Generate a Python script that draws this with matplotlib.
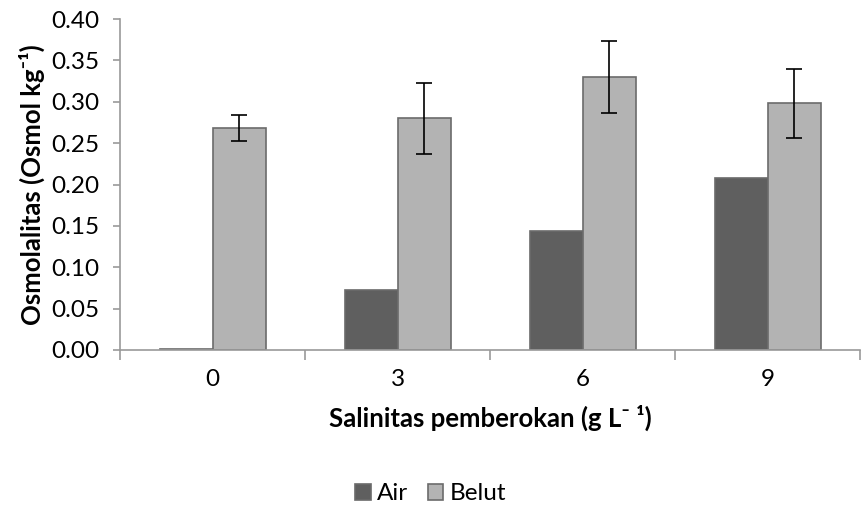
import matplotlib
matplotlib.use("Agg")
import matplotlib.pyplot as plt
import numpy as np

plt.rcParams['font.family'] = ['Lato', 'DejaVu Sans']

categories = ["0", "3", "6", "9"]
air = [0.001, 0.072, 0.144, 0.208]
belut = [0.268, 0.280, 0.330, 0.298]
belut_err = [0.016, 0.043, 0.044, 0.042]
yticks = [0.00, 0.05, 0.10, 0.15, 0.20, 0.25, 0.30, 0.35, 0.40]

fig = plt.figure(figsize=(8.61, 5.12), dpi=100)
ax = fig.add_axes([120/861, (512-350)/512, 740/861, 331/512])

x = np.arange(len(categories))
w = 53/185
ax.bar(x - w/2, air, width=w, color="#5f5f5f", edgecolor="#6b6b6b", linewidth=1.2, label="Air", zorder=2)
ax.bar(x + w/2, belut, width=w, color="#b3b3b3", edgecolor="#6b6b6b", linewidth=1.2, label="Belut", zorder=2)
ax.errorbar(x + w/2, belut, yerr=belut_err, fmt="none", ecolor="black", elinewidth=1.2, capsize=6, capthick=1.2, zorder=3)

ax.set_xlim(-0.5, len(categories) - 0.5)
ax.set_ylim(0, 0.40)
ax.set_yticks(yticks)
ax.set_yticklabels([f"{v:.2f}" for v in yticks], fontsize=17.5)
ax.set_xticks(x)
ax.set_xticklabels(categories, fontsize=17.5)
ax.set_xticks(np.arange(-0.5, len(categories)), minor=True)
ax.tick_params(axis="x", which="major", length=0, pad=14)
ax.tick_params(axis="x", which="minor", length=7, color="#9a9a9a", width=1.2)
ax.tick_params(axis="y", length=5, color="#9a9a9a", width=1.2, pad=10)

for s in ["top", "right"]:
    ax.spines[s].set_visible(False)
for s in ["left", "bottom"]:
    ax.spines[s].set_color("#9a9a9a")
    ax.spines[s].set_linewidth(1.2)

ax.set_ylabel("Osmolalitas (Osmol kg\u207b\u00b9)", fontsize=18.5, fontweight="bold", labelpad=4)
ax.set_xlabel("Salinitas pemberokan (g L\u207b \u00b9)", fontsize=18.5, fontweight="bold", labelpad=10)

leg = fig.legend(loc="center", bbox_to_anchor=(0.5, (512-494)/512), ncol=2, frameon=False,
                 fontsize=17.5, handlelength=0.65, handleheight=0.65, handletextpad=0.25, columnspacing=0.8)

fig.savefig("out.png", dpi=100)
